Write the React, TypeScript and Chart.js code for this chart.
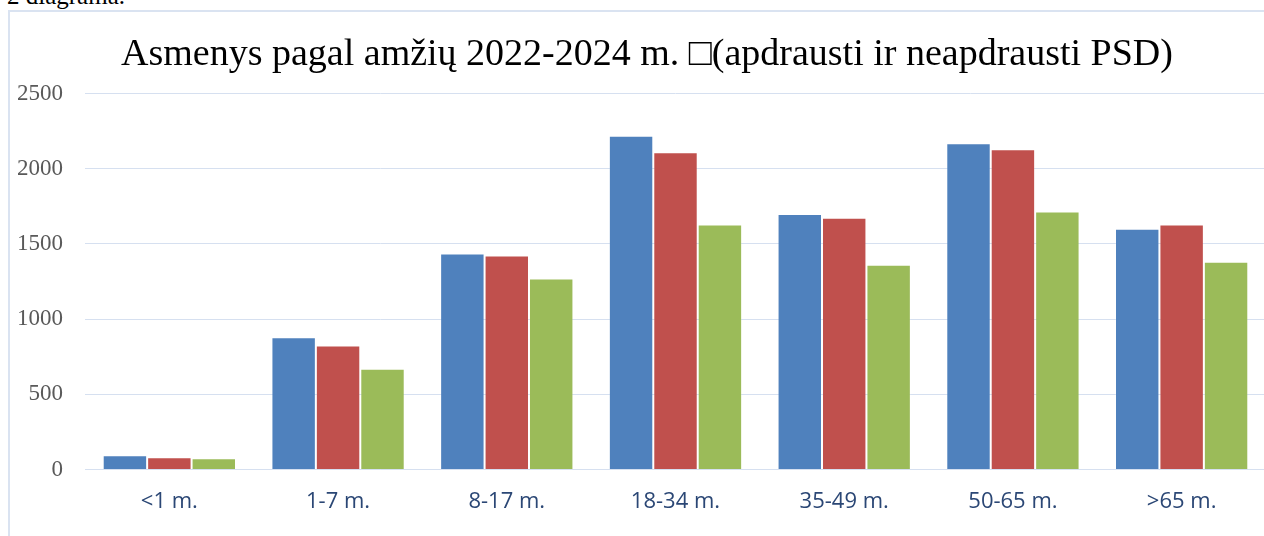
import React, { useEffect, useRef } from "react";
import { Chart, registerables } from "chart.js";

Chart.register(...registerables);

const categories = ["<1 m.", "1-7 m.", "8-17 m.", "18-34 m.", "35-49 m.", "50-65 m.", ">65 m."];
const series2022 = [95, 880, 1437, 2219, 1698, 2169, 1600];
const series2023 = [82, 824, 1423, 2110, 1674, 2130, 1629];
const series2024 = [75, 670, 1270, 1629, 1361, 1716, 1381];
const seriesLabels = ["2022", "2023", "2024"];
const seriesColors = ["#4F81BD", "#C0504D", "#9BBB59"];
const titleText = "Asmenys pagal amžių 2022-2024 m. \u25A1(apdrausti ir neapdrausti PSD)";

const titlePlugin = {
  id: "offsetTitle",
  afterDraw(chart: any) {
    const ctx = chart.ctx;
    ctx.save();
    ctx.font = "38px 'Liberation Serif', 'DejaVu Serif', serif";
    ctx.fillStyle = "#000000";
    ctx.textAlign = "center";
    ctx.textBaseline = "middle";
    const cx = (18 + chart.chartArea.right) / 2;
    ctx.fillText(titleText, cx, 43);
    ctx.restore();
  },
};

export default function App() {
  const ref = useRef<HTMLCanvasElement | null>(null);

  useEffect(() => {
    if (!ref.current) return;
    const values = [series2022, series2023, series2024];
    const chart = new Chart(ref.current, {
      type: "bar",
      data: {
        labels: categories,
        datasets: values.map((v, i) => ({
          label: seriesLabels[i],
          data: v,
          backgroundColor: seriesColors[i],
          borderColor: "rgba(255,255,255,0.15)",
          borderWidth: 1,
          categoryPercentage: 0.79,
          barPercentage: 1.0,
        })),
      },
      plugins: [titlePlugin],
      options: {
        animation: false,
        responsive: false,
        maintainAspectRatio: false,
        layout: { padding: { left: 0, right: 14, top: 81.5, bottom: 0 } },
        plugins: {
          legend: { display: false },
          tooltip: { enabled: false },
          title: { display: false },
        },
        scales: {
          x: {
            grid: { display: false, drawTicks: false },
            border: { display: true, color: "#D6E0F0", width: 1 },
            ticks: {
              color: "#2B4775",
              font: { family: "'Open Sans', 'Noto Sans', sans-serif", size: 22 },
              padding: 19,
            },
            afterFit: (s: any) => {
              s.height = 68.5;
            },
          },
          y: {
            min: 0,
            max: 2500,
            ticks: {
              stepSize: 500,
              color: "#595959",
              font: { family: "'Liberation Serif', 'DejaVu Serif', serif", size: 23 },
              padding: 22,
              callback: (v: any) => String(v),
            },
            grid: { color: "#D6E0F0", lineWidth: 1, drawTicks: false },
            border: { display: false },
            afterFit: (s: any) => {
              s.width = 75;
            },
          },
        },
      },
    });
    return () => chart.destroy();
  }, []);

  return (
    <div
      style={{
        position: "fixed",
        left: 0,
        top: 0,
        width: 1264,
        height: 536,
        overflow: "hidden",
        background: "#fff",
      }}
    >
      <div
        style={{
          position: "absolute",
          left: 7,
          top: -18,
          fontFamily: "'Liberation Serif', serif",
          fontSize: 25,
          lineHeight: "28px",
          color: "#000",
          whiteSpace: "nowrap",
        }}
      >
        2 diagrama.
      </div>
      <div
        style={{
          position: "absolute",
          left: 8,
          top: 10,
          width: 1300,
          height: 540,
          boxSizing: "border-box",
          borderLeft: "2px solid #DAE3F1",
          borderTop: "2px solid #DAE3F1",
          background: "#fff",
        }}
      >
        <canvas ref={ref} width={1270} height={526} style={{ display: "block" }} />
      </div>
    </div>
  );
}
